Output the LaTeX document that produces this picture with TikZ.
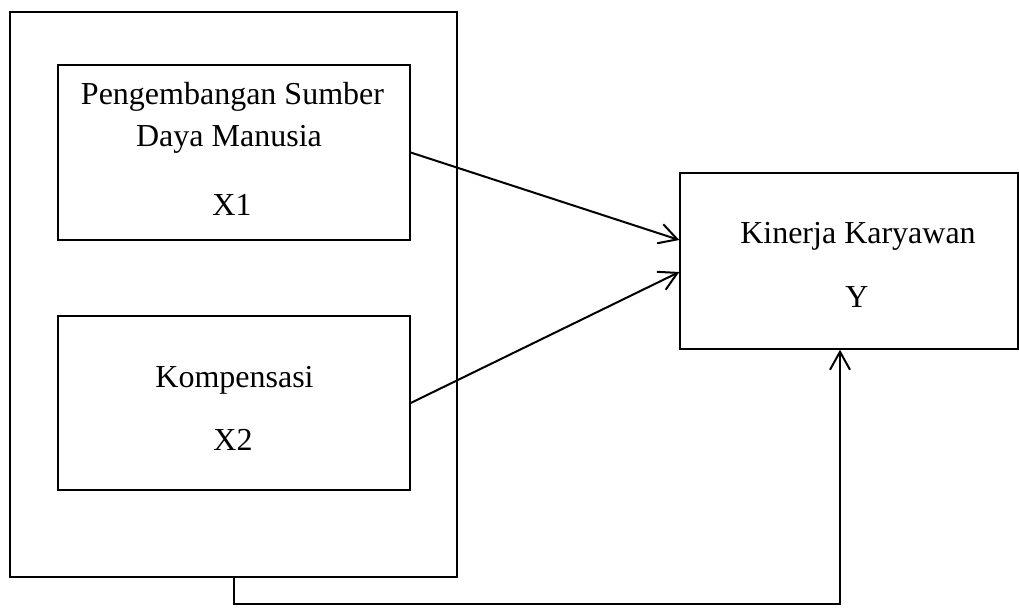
\documentclass[tikz,border=0pt]{standalone}
\usepackage{fontspec}
\setmainfont{Liberation Serif}
\usetikzlibrary{arrows.meta}
\begin{document}
\begin{tikzpicture}[x=0.5pt,y=-0.5pt,>={Straight Barb[length=9pt,width=10pt]},
  box/.style={draw,line width=0.7pt,inner sep=0pt},
  lbl/.style={anchor=base,inner sep=0pt,font=\fontsize{16}{19}\selectfont},
  link/.style={->,line width=1pt}]
\useasboundingbox (0,0) rectangle (1019,610);
\node[box,minimum width=223.5pt,minimum height=282.5pt] (outer) at (233.5,294.5) {};
\node[box,minimum width=176pt,minimum height=87.5pt] (sdm) at (234,152.5) {};
\node[box,minimum width=176pt,minimum height=87pt] (komp) at (234,403) {};
\node[box,minimum width=169pt,minimum height=88pt] (kin) at (849,261) {};
\node[lbl] (sdm1) at (232.5,105) {Pengembangan Sumber};
\node[lbl] (sdm2) at (229,147) {Daya Manusia};
\node[lbl] (x1) at (232,216) {X1};
\node[lbl] (komp1) at (234.5,387) {Kompensasi};
\node[lbl] (x2) at (233,451) {X2};
\node[lbl] (kin1) at (858,243) {Kinerja Karyawan};
\node[lbl] (y) at (857,307) {Y};
\draw[link] (sdm.east) -- ([yshift=10.5pt]kin.west);
\draw[link] (komp.east) -- ([yshift=-5.5pt]kin.west);
\draw[link] (outer.south) -- ++(0,26) -| ([xshift=-4.5pt]kin.south);
\end{tikzpicture}
\end{document}
